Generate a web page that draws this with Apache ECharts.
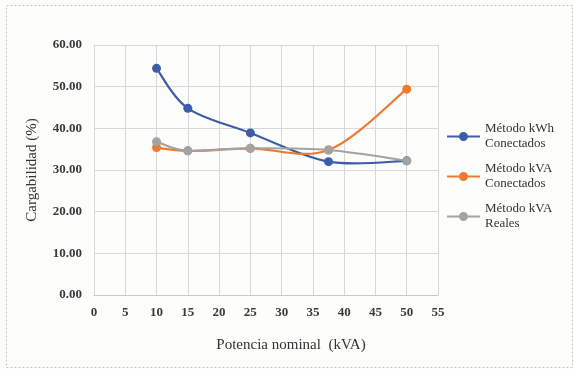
<!DOCTYPE html>
<html>
<head>
<meta charset="utf-8">
<style>
  html, body { margin: 0; padding: 0; background: #fdfdfb; }
  #chart { width: 574px; height: 369px; }
</style>
<script src="https://cdn.jsdelivr.net/npm/echarts@6/dist/echarts.min.js"></script>
</head>
<body>
<div id="chart"></div>
<script>
// Potencia nominal (kVA) of each transformer group
const potencias = [10, 15, 25, 37.5, 50];

// Cargabilidad (%) by method
const kwhConectados = [54.4, 44.8, 38.9, 32.0, 32.2];
const kvaConectados = [35.4, 34.6, 35.2, 34.8, 49.4];
const kvaReales     = [36.8, 34.6, 35.2, 34.8, 32.2];

const seriesNames = ['Método kWh\nConectados', 'Método kVA\nConectados', 'Método kVA\nReales'];
const seriesColors = ['#3d5ca9', '#ee7a30', '#a3a3a3'];

const pairs = vals => potencias.map((p, i) => [p, vals[i]]);

const serif = '"Liberation Serif", "DejaVu Serif", serif';
const chart = echarts.init(document.getElementById('chart'), null, { renderer: 'canvas' });

// Legend glyph: short line with a round marker in the middle (both clockwise so they fill together)
const legendIcon = 'path://M0 3.4h33v2.2h-33z M16.5 0a4.5 4.5 0 1 1 -0.001 0z';

// Smoothed line: each item draws the cubic segment to the next point
// (Catmull-Rom tangents in pixel space) and then its own marker.
function makeSeries(name, vals, color) {
  const n = vals.length;
  return {
    name: name,
    type: 'custom',
    coordinateSystem: 'cartesian2d',
    data: pairs(vals),
    itemStyle: { color: color },
    encode: { x: 0, y: 1 },
    renderItem: function (params, api) {
      const i = params.dataIndexInside;
      const pt = j => {
        const k = Math.max(0, Math.min(n - 1, j));
        return api.coord([api.value(0, k), api.value(1, k)]);
      };
      const children = [];
      const p1 = pt(i);
      if (i < n - 1) {
        const p0 = pt(i - 1), p2 = pt(i + 1), p3 = pt(i + 2);
        const c1 = [p1[0] + (p2[0] - p0[0]) / 6, p1[1] + (p2[1] - p0[1]) / 6];
        const c2 = [p2[0] - (p3[0] - p1[0]) / 6, p2[1] - (p3[1] - p1[1]) / 6];
        children.push({
          type: 'bezierCurve',
          shape: { x1: p1[0], y1: p1[1], x2: p2[0], y2: p2[1],
                   cpx1: c1[0], cpy1: c1[1], cpx2: c2[0], cpy2: c2[1] },
          style: { stroke: color, lineWidth: 2.2, fill: null },
          silent: true
        });
      }
      children.push({
        type: 'circle',
        shape: { cx: p1[0], cy: p1[1], r: 4.5 },
        style: { fill: color, stroke: null },
        z2: 10
      });
      return { type: 'group', children: children };
    }
  };
}

chart.setOption({
  backgroundColor: '#fdfdfb',
  animation: false,
  color: seriesColors,
  graphic: [{
    type: 'rect',
    shape: { x: 6.5, y: 5.5, width: 566, height: 362 },
    style: { fill: 'none', stroke: '#c4c4c4', lineWidth: 1, lineDash: [2, 2] },
    silent: true
  }],
  grid: { left: 94, right: 136, top: 45, bottom: 74, containLabel: false },
  legend: {
    orient: 'vertical',
    left: 447,
    top: 114,
    padding: 0,
    itemWidth: 33,
    itemHeight: 9,
    itemGap: -5,
    textStyle: {
      fontFamily: serif,
      fontSize: 13,
      color: '#333',
      lineHeight: 15,
      padding: [15, 0, 0, 0]
    },
    data: seriesNames.map(nm => ({ name: nm, icon: legendIcon }))
  },
  xAxis: {
    type: 'value',
    min: 0,
    max: 55,
    interval: 5,
    name: 'Potencia nominal  (kVA)',
    nameLocation: 'middle',
    nameGap: 43,
    nameTextStyle: { fontFamily: serif, fontSize: 15, color: '#333', padding: [0, 0, 0, 50] },
    axisLine: { show: true, lineStyle: { color: '#c8c8c8' } },
    axisTick: { show: false },
    axisLabel: { fontFamily: serif, fontSize: 13, fontWeight: 'bold', color: '#3a3a3a', margin: 11 },
    splitLine: { show: true, lineStyle: { color: '#d8d8d8', width: 1 } }
  },
  yAxis: {
    type: 'value',
    min: 0,
    max: 60,
    interval: 10,
    name: 'Cargabilidad (%)',
    nameLocation: 'middle',
    nameGap: 54,
    nameTextStyle: { fontFamily: serif, fontSize: 15, color: '#333' },
    axisLine: { show: false },
    axisTick: { show: false },
    axisLabel: {
      fontFamily: serif, fontSize: 13, fontWeight: 'bold', color: '#3a3a3a', margin: 12,
      formatter: v => v.toFixed(2)
    },
    splitLine: { show: true, lineStyle: { color: '#d8d8d8', width: 1 } }
  },
  series: [
    makeSeries(seriesNames[0], kwhConectados, seriesColors[0]),
    makeSeries(seriesNames[1], kvaConectados, seriesColors[1]),
    makeSeries(seriesNames[2], kvaReales, seriesColors[2])
  ]
});
</script>
</body>
</html>
